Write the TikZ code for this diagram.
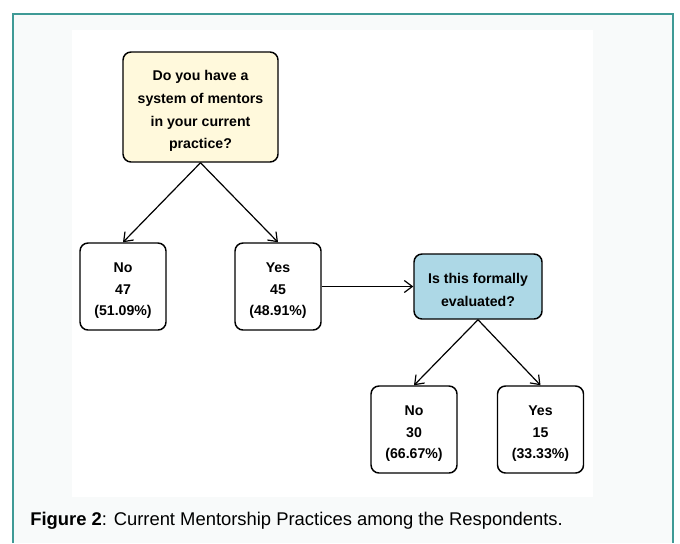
\documentclass[tikz,border=0pt]{standalone}
\usepackage{fontspec}
\setmainfont{Liberation Sans}
\usetikzlibrary{arrows.meta}
\definecolor{frameteal}{HTML}{3F9A96}
\definecolor{panelbg}{HTML}{F8FAFA}
\definecolor{qyellow}{HTML}{FFF9DC}
\definecolor{qblue}{HTML}{ADD8E6}
\newcommand{\toppad}{\rule{0pt}{13.5pt}}
\tikzset{
  px/.style={x=0.75pt,y=-0.75pt},
  box/.style={draw=black, line width=1.1pt, rounded corners=6pt, align=center, inner sep=0pt},
  qtext/.style={font=\fontsize{10.6}{17.2}\selectfont\bfseries},
  rtext/.style={font=\fontsize{10.6}{15.8}\selectfont\bfseries},
  resbox/.style={box, fill=white, rtext, minimum width=64.5pt, minimum height=65.25pt},
  conn/.style={draw=black, line width=0.9pt, -{Straight Barb[length=6pt,width=9pt]}}
}
\begin{document}
\begin{tikzpicture}[px]
\useasboundingbox (0,0) rectangle (680,543);
\fill[white] (0,0) rectangle (680,543);
\fill[panelbg] (13,14) rectangle (673,543);
\draw[frameteal, line width=1.3pt] (13,543) -- (13,14) -- (673,14) -- (673,543);
\fill[white] (72,30) rectangle (593,497);
\node[box, fill=qyellow, qtext, minimum width=116.25pt, minimum height=82.5pt] (q1) at (200.5,107) {\toppad Do you have a\\system of mentors\\in your current\\practice?};
\node[resbox] (no1) at (123,286.5) {\toppad No\\47\\(51.09\%)};
\node[resbox] (yes1) at (278,286.5) {\toppad Yes\\45\\(48.91\%)};
\node[box, fill=qblue, qtext, minimum width=96pt, minimum height=48.75pt] (q2) at (478,286.5) {\toppad Is this formally\\evaluated?};
\node[resbox] (no2) at (414,429.5) {\toppad No\\30\\(66.67\%)};
\node[resbox] (yes2) at (540.5,429.5) {\toppad Yes\\15\\(33.33\%)};
\draw[conn] (q1.south) -- (no1.north);
\draw[conn] (q1.south) -- (yes1.north);
\draw[conn] (yes1.east) -- (q2.west);
\draw[conn] (q2.south) -- (no2.north);
\draw[conn] (q2.south) -- (yes2.north);
\node[anchor=base west, inner sep=0pt, font=\fontsize{13.8}{16}\selectfont] (cap) at (30,525) {\textbf{Figure 2}: Current Mentorship Practices among the Respondents.};
\end{tikzpicture}
\end{document}
